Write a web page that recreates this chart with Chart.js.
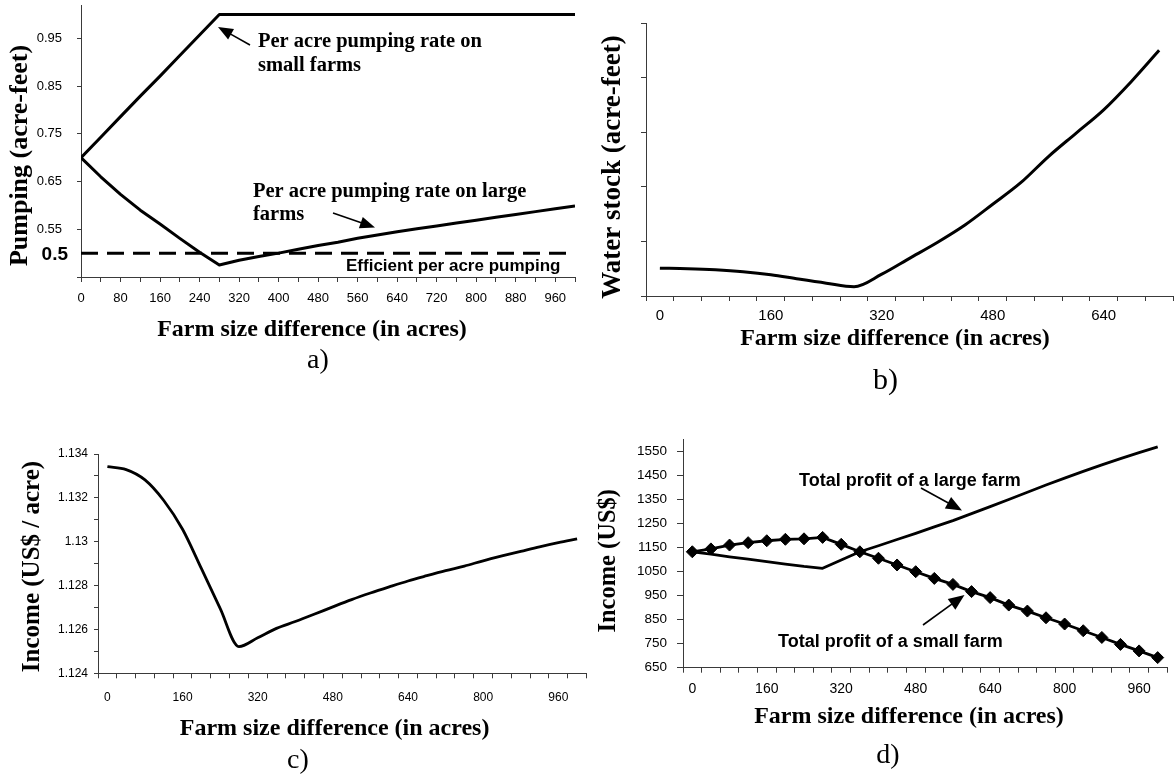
<!DOCTYPE html>
<html><head><meta charset="utf-8">
<script src="https://cdn.jsdelivr.net/npm/chart.js@4.4.1/dist/chart.umd.min.js"></script>
<style>
html,body{margin:0;padding:0;background:#fff;}
#wrap{position:relative;width:1174px;height:778px;overflow:hidden;background:#fff;}
canvas{position:absolute;left:0;top:0;}
</style></head><body>
<div id="wrap">
<canvas id="ca" width="1174" height="778"></canvas>
<canvas id="cb" width="1174" height="778"></canvas>
<canvas id="cc" width="1174" height="778"></canvas>
<canvas id="cd" width="1174" height="778"></canvas>
</div>
<script>
// ---------- DATA ----------
// a) per-acre pumping
const pumpAcres = [0,40,80,120,160,200,240,280,320,360,400,440,480,520,560,600,640,680,720,760,800,840,880,920,960,1000];
const pumpSmall = [0.700,0.743,0.786,0.829,0.871,0.914,0.957,1.000,1.000,1.000,1.000,1.000,1.000,1.000,1.000,1.000,1.000,1.000,1.000,1.000,1.000,1.000,1.000,1.000,1.000,1.000];
const pumpLarge = [0.700,0.660,0.623,0.590,0.561,0.531,0.502,0.475,0.485,0.493,0.500,0.508,0.516,0.523,0.531,0.538,0.545,0.551,0.557,0.563,0.569,0.575,0.581,0.587,0.593,0.599];
const efficientAcres = [0,1000];
const efficientRate = [0.5,0.5];
const pumpYTicks = [0.45,0.55,0.65,0.75,0.85,0.95];

// b) water stock (unlabelled axis units)
const stockAcres = ['0','40','80','120','160','200','240','280','320','360','400','440','480','520','560','600','640','680','720'];
const waterStock = [0.51,0.50,0.48,0.445,0.39,0.31,0.235,0.17,0.40,0.69,0.98,1.30,1.68,2.07,2.55,2.98,3.41,3.93,4.50];
const stockYTicks = [0,1,2,3,4,5];

// c) income per acre
const incomeAcres = ['0','40','80','120','160','200','240','280','320','360','400','440','480','520','560','600','640','680','720','760','800','840','880','920','960','1000'];
const incomePerAcre = [1.13342,1.13329,1.13282,1.13188,1.13057,1.12878,1.12696,1.12522,1.12562,1.12605,1.12636,1.12669,1.12703,1.12736,1.12766,1.12794,1.12821,1.12845,1.12868,1.12889,1.12913,1.12935,1.12956,1.12977,1.12996,1.13013];
const incomeYTicks = [1.124,1.125,1.126,1.127,1.128,1.129,1.130,1.131,1.132,1.133,1.134];

// d) total profit
const profitAcres = ['0','40','80','120','160','200','240','280','320','360','400','440','480','520','560','600','640','680','720','760','800','840','880','920','960','1000'];
const profitLarge = [1133,1123,1112,1102,1092,1082,1072,1064,1099,1133,1158,1184,1210,1237,1263,1292,1321,1351,1381,1411,1440,1468,1495,1521,1546,1570];
const profitSmall = [1133,1145,1161,1171,1179,1185,1187,1193,1164,1133,1106,1078,1050,1022,997,967,942,911,886,858,832,804,776,747,720,692];
const profitYTicks = [650,750,850,950,1050,1150,1250,1350,1450,1550];

// text
const xTitle = 'Farm size difference (in acres)';
const yTitleA = 'Pumping (acre-feet)';
const yTitleB = 'Water stock (acre-feet)';
const yTitleC = 'Income (US$ / acre)';
const yTitleD = 'Income (US$)';

// ---------- STYLE / LAYOUT ----------
const SERIF = '"Liberation Serif","Times New Roman",serif';
const SANS = '"Liberation Sans",Arial,sans-serif';
const AXIS = '#3a3a3a';
const W = 1174, H = 778;

function fitY(width){ return s => { s.width = width; s.paddingTop = 0; s.paddingBottom = 0; s.paddingLeft = 0; s.paddingRight = 0; }; }
function fitX(height){ return s => { s.height = height; s.paddingTop = 0; s.paddingBottom = 0; s.paddingLeft = 0; s.paddingRight = 0; }; }

function overlay(items){
  return { id:'overlay', afterDraw(chart){
    const ctx = chart.ctx; ctx.save();
    items.forEach(it => {
      if (it.arrow){
        const [x1,y1,x2,y2] = it.arrow;
        const ang = Math.atan2(y2-y1, x2-x1);
        const hl = it.hl || 15, hw = it.hw || 12;
        const bx = x2 - Math.cos(ang)*hl, by = y2 - Math.sin(ang)*hl;
        ctx.strokeStyle = '#000'; ctx.lineWidth = it.lw || 1.6;
        ctx.beginPath(); ctx.moveTo(x1,y1); ctx.lineTo(bx + Math.cos(ang)*2, by + Math.sin(ang)*2); ctx.stroke();
        ctx.fillStyle = '#000'; ctx.beginPath();
        ctx.moveTo(x2,y2);
        ctx.lineTo(bx + Math.sin(ang)*hw/2, by - Math.cos(ang)*hw/2);
        ctx.lineTo(bx - Math.sin(ang)*hw/2, by + Math.cos(ang)*hw/2);
        ctx.closePath(); ctx.fill();
      } else {
        ctx.save();
        ctx.fillStyle = '#000'; ctx.font = it.font;
        ctx.textAlign = it.align || 'center'; ctx.textBaseline = 'alphabetic';
        ctx.translate(it.x, it.y);
        if (it.rot) ctx.rotate(-Math.PI/2);
        ctx.fillText(it.t, 0, 0);
        ctx.restore();
      }
    });
    ctx.restore();
  }};
}

function baseOpts(pad){
  return { responsive:false, animation:false, events:[], layout:{padding:pad},
    plugins:{legend:{display:false}, tooltip:{enabled:false}} };
}
function gridOpts(len, offset){ return {drawOnChartArea:false, drawTicks:true, tickLength:len, tickColor:AXIS, tickWidth:1, offset:!!offset}; }
const border = {display:true, color:AXIS, width:1};

// ---------- PANEL A ----------
new Chart(document.getElementById('ca'), {
  type:'line',
  data:{ datasets:[
    {data: pumpAcres.map((x,i)=>({x, y:pumpSmall[i]})), borderColor:'#000', borderWidth:3, pointRadius:0, tension:0, borderJoinStyle:'round'},
    {data: pumpAcres.map((x,i)=>({x, y:pumpLarge[i]})), borderColor:'#000', borderWidth:3, pointRadius:0, tension:0, borderJoinStyle:'round'},
    {data: efficientAcres.map((x,i)=>({x, y:efficientRate[i]})), borderColor:'#000', borderWidth:3, pointRadius:0, borderDash:[17,9], borderCapStyle:'butt'}
  ]},
  options: Object.assign(baseOpts({left:0, top:5, right:W-575, bottom:H-277-40}), {
    scales:{
      x:{type:'linear', min:0, max:1000,
        afterBuildTicks: s => { s.ticks = pumpAcres.map(v=>({value:v})); },
        afterFit: fitX(40),
        ticks:{autoSkip:false, maxRotation:0, color:'#000', padding:9, font:{family:SANS, size:13},
          callback: v => (v % 80 === 0 && v < 1000) ? String(v) : ''},
        grid: gridOpts(5), border},
      y:{type:'linear', min:0.45, max:1.02,
        afterBuildTicks: s => { s.ticks = pumpYTicks.map(v=>({value:v})); },
        afterFit: fitY(81),
        ticks:{autoSkip:false, color:'#000', padding:15, font:{family:SANS, size:13},
          callback: v => v < 0.5 ? '' : v.toFixed(2)},
        grid: gridOpts(4), border}
    }
  }),
  plugins:[overlay([
    {t:'Per acre pumping rate on', x:258, y:46.5, font:'bold 20.5px '+SERIF, align:'left'},
    {t:'small farms', x:258, y:70.5, font:'bold 20.5px '+SERIF, align:'left'},
    {arrow:[250,45,218,27], hl:15, hw:12},
    {t:'Per acre pumping rate on large', x:253, y:196.5, font:'bold 20.5px '+SERIF, align:'left'},
    {t:'farms', x:253, y:220, font:'bold 20.5px '+SERIF, align:'left'},
    {arrow:[333,213,375,227.5], hl:15, hw:12},
    {t:'Efficient per acre pumping', x:346, y:270.5, font:'bold 17px '+SANS, align:'left'},
    {t:'0.5', x:68, y:260, font:'bold 19px '+SANS, align:'right'},
    {t:yTitleA, x:26.5, y:155.5, font:'bold 26px '+SERIF, rot:true},
    {t:xTitle, x:312, y:335.5, font:'bold 24px '+SERIF},
    {t:'a)', x:318, y:368, font:'28px '+SERIF}
  ])]
});

// ---------- PANEL B ----------
new Chart(document.getElementById('cb'), {
  type:'line',
  data:{ labels: stockAcres, datasets:[
    {data: waterStock, borderColor:'#000', borderWidth:3, pointRadius:0, tension:0.4, cubicInterpolationMode:'monotone'}
  ]},
  options: Object.assign(baseOpts({left:600, top:23, right:1, bottom:H-296-40}), {
    scales:{
      x:{type:'category', offset:true, afterFit: fitX(40),
        ticks:{autoSkip:false, maxRotation:0, color:'#000', padding:6, font:{family:SANS, size:15},
          callback: function(v, i){ return i % 4 === 0 ? this.getLabelForValue(v) : ''; }},
        grid: gridOpts(5, true), border},
      y:{type:'linear', min:0, max:5,
        afterBuildTicks: s => { s.ticks = stockYTicks.map(v=>({value:v})); },
        afterFit: fitY(46),
        ticks:{callback: () => ''},
        grid: gridOpts(5), border}
    }
  }),
  plugins:[overlay([
    {t:yTitleB, x:620, y:167, font:'bold 27px '+SERIF, rot:true},
    {t:xTitle, x:895, y:345, font:'bold 24px '+SERIF},
    {t:'b)', x:885.5, y:388.5, font:'30px '+SERIF}
  ])]
});

// ---------- PANEL C ----------
new Chart(document.getElementById('cc'), {
  type:'line',
  data:{ labels: incomeAcres, datasets:[
    {data: incomePerAcre, borderColor:'#000', borderWidth:2.8, pointRadius:0, tension:0.4, cubicInterpolationMode:'monotone'}
  ]},
  options: Object.assign(baseOpts({left:0, top:454, right:W-586.5, bottom:H-673.3-40}), {
    scales:{
      x:{type:'category', offset:true, afterFit: fitX(40),
        ticks:{autoSkip:false, maxRotation:0, color:'#000', padding:12, font:{family:SANS, size:12},
          callback: function(v, i){ return i % 4 === 0 ? this.getLabelForValue(v) : ''; }},
        grid: gridOpts(5, true), border},
      y:{type:'linear', min:1.124, max:1.134,
        afterBuildTicks: s => { s.ticks = incomeYTicks.map(v=>({value:v})); },
        afterFit: fitY(98),
        ticks:{autoSkip:false, color:'#000', padding:6, font:{family:SANS, size:12},
          callback: v => (Math.round(v*1000) % 2 === 0) ? String(Number(v.toFixed(3))) : ''},
        grid: gridOpts(4), border}
    }
  }),
  plugins:[overlay([
    {t:yTitleC, x:39, y:566.5, font:'bold 25px '+SERIF, rot:true},
    {t:xTitle, x:334.6, y:735, font:'bold 24px '+SERIF},
    {t:'c)', x:298, y:768, font:'28px '+SERIF}
  ])]
});

// ---------- PANEL D ----------
new Chart(document.getElementById('cd'), {
  type:'line',
  data:{ labels: profitAcres, datasets:[
    {data: profitLarge, borderColor:'#000', borderWidth:2.8, pointRadius:0, tension:0, borderJoinStyle:'round'},
    {data: profitSmall, borderColor:'#000', borderWidth:2.8, tension:0, pointStyle:'rectRot', pointRadius:6,
      pointBackgroundColor:'#000', pointBorderColor:'#000', pointBorderWidth:1}
  ]},
  options: Object.assign(baseOpts({left:600, top:439.7, right:3, bottom:H-667.7-40}), {
    scales:{
      x:{type:'category', offset:true, afterFit: fitX(40),
        ticks:{autoSkip:false, maxRotation:0, color:'#000', padding:8, font:{family:SANS, size:14},
          callback: function(v, i){ return i % 4 === 0 ? this.getLabelForValue(v) : ''; }},
        grid: gridOpts(5, true), border},
      y:{type:'linear', min:650, max:1600,
        afterBuildTicks: s => { s.ticks = profitYTicks.map(v=>({value:v})); },
        afterFit: fitY(83),
        ticks:{autoSkip:false, color:'#000', padding:10, font:{family:SANS, size:13.5},
          callback: v => String(v)},
        grid: gridOpts(6), border}
    }
  }),
  plugins:[overlay([
    {t:yTitleD, x:615, y:560.8, font:'bold 24.5px '+SERIF, rot:true},
    {t:xTitle, x:909, y:723.3, font:'bold 24px '+SERIF},
    {t:'d)', x:888, y:763, font:'28px '+SERIF},
    {t:'Total profit of a large farm', x:799, y:486, font:'bold 18px '+SANS, align:'left'},
    {arrow:[921,488,962,510.5], hl:16, hw:13},
    {t:'Total profit of a small farm', x:778, y:647, font:'bold 18px '+SANS, align:'left'},
    {arrow:[923,625,964.5,595], hl:16, hw:13}
  ])]
});
</script>
</body></html>
